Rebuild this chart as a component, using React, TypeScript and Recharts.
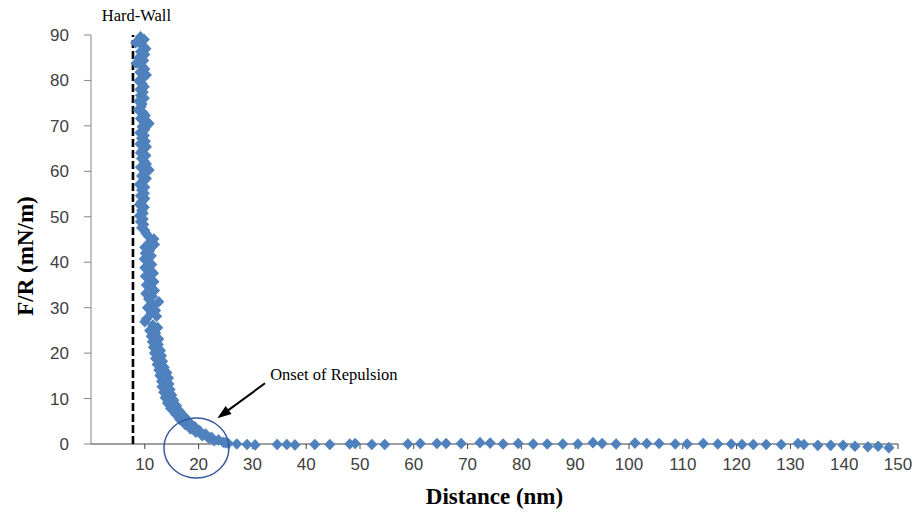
import React from 'react';
import { ScatterChart, Scatter, XAxis, YAxis, ReferenceLine, ReferenceDot } from 'recharts';

// Force-distance approach curve: [distance nm, F/R mN/m]
const approachCurve: [number, number][] = [
  [9.2, 89.6], [9.9, 89.0], [8.3, 88.3], [9.6, 87.6], [10.2, 87.0], [9.2, 86.3], [10.0, 85.7], [8.9, 85.0],
  [9.8, 84.4], [8.4, 83.8], [9.5, 83.1], [10.0, 82.5], [9.1, 81.8], [10.3, 81.2], [9.7, 80.6], [8.9, 79.9],
  [9.5, 79.3], [9.9, 78.6], [9.1, 78.0], [9.7, 77.4], [9.2, 76.7], [9.9, 76.1], [8.9, 75.4], [9.5, 74.8],
  [9.3, 74.2], [8.8, 73.5], [9.7, 72.9], [10.1, 72.3], [9.2, 71.6], [10.3, 71.0], [10.8, 70.5], [9.5, 69.8],
  [10.0, 69.2], [9.1, 68.5], [9.9, 67.9], [9.4, 67.3], [10.1, 66.6], [9.1, 66.0], [10.3, 65.4], [9.6, 64.7],
  [9.2, 64.1], [10.2, 63.5], [9.4, 62.8], [9.9, 62.2], [10.3, 61.6], [9.2, 60.9], [10.8, 60.3], [10.0, 59.7],
  [9.4, 59.0], [10.3, 58.4], [9.6, 57.8], [9.0, 57.1], [10.0, 56.5], [9.4, 55.9], [9.9, 55.2], [9.2, 54.6],
  [10.0, 54.0], [9.4, 53.3], [9.0, 52.7], [9.9, 52.1], [9.4, 51.4], [9.7, 50.8], [9.0, 50.2], [9.7, 49.5],
  [9.2, 48.9], [9.8, 48.3], [9.4, 47.6], [10.0, 47.0], [10.2, 46.4], [10.6, 45.8], [11.7, 45.1], [11.0, 44.5],
  [11.8, 43.9], [10.0, 43.3], [10.9, 42.6], [10.1, 42.0], [11.2, 41.4], [9.9, 40.7], [10.7, 40.1], [11.3, 39.5],
  [10.0, 38.8], [11.0, 38.2], [11.6, 37.6], [10.1, 36.9], [11.1, 36.3], [11.7, 35.7], [10.3, 35.0], [11.2, 34.4],
  [11.8, 33.8], [10.2, 33.1], [11.4, 32.5], [10.7, 31.9], [12.6, 31.3], [11.6, 30.6], [10.5, 30.0], [12.0, 29.4],
  [11.2, 28.8], [12.2, 28.1], [10.3, 27.5], [10.0, 26.9], [11.5, 26.2], [12.4, 25.6], [10.9, 25.0], [12.0, 24.4],
  [11.2, 23.7], [12.6, 23.1], [11.4, 22.5], [12.5, 21.9], [11.6, 21.3], [12.9, 20.6], [11.8, 20.0], [13.1, 19.4],
  [12.0, 18.8], [13.3, 18.2], [12.3, 17.5], [13.6, 16.9], [12.6, 16.3], [14.1, 15.7], [12.8, 15.1], [14.4, 14.5],
  [13.1, 13.8], [14.5, 13.2], [13.2, 12.6], [14.7, 12.0], [13.5, 11.4], [15.0, 10.8], [13.8, 10.2], [15.4, 9.6],
  [14.2, 9.0], [15.9, 8.4], [14.8, 7.8], [16.5, 7.2], [15.7, 6.6], [17.4, 6.0], [16.5, 5.4], [18.3, 4.8],
  [17.5, 4.3], [19.3, 3.8], [18.5, 3.3], [20.2, 2.9], [19.5, 2.6], [21.3, 2.2], [20.7, 1.8], [22.4, 1.5],
  [21.9, 1.2], [23.7, 0.9], [22.9, 0.7], [24.6, 0.4], [25.0, 0.3],
];

// Sparse points along the baseline at large separations
const baselineTail: [number, number][] = [
  [25.5, 0.1], [27.1, 0.0], [29.0, -0.1], [30.5, -0.2], [34.6, -0.1], [36.4, -0.1], [37.9, -0.2], [41.6, -0.1],
  [44.4, -0.1], [48.1, 0.0], [49.1, 0.1], [52.2, -0.1], [54.6, -0.1], [58.9, 0.0], [61.2, 0.1], [64.3, 0.1],
  [66.0, 0.1], [68.8, 0.1], [72.3, 0.3], [74.2, 0.2], [76.6, 0.0], [79.4, 0.1], [82.2, 0.0], [84.8, 0.0],
  [87.7, 0.0], [90.5, 0.0], [93.3, 0.3], [95.0, 0.1], [97.6, 0.0], [101.1, 0.2], [103.3, 0.1], [105.6, 0.1],
  [108.6, 0.0], [110.8, 0.0], [113.8, 0.1], [116.5, 0.0], [119.0, 0.0], [121.0, -0.1], [123.1, -0.1], [125.5, -0.1],
  [128.3, -0.1], [131.4, 0.1], [132.5, -0.1], [135.1, -0.3], [137.5, -0.3], [139.8, -0.3], [142.0, -0.5], [144.4, -0.6],
  [146.3, -0.5], [148.3, -0.8],
];

const xTicks = [10, 20, 30, 40, 50, 60, 70, 80, 90, 100, 110, 120, 130, 140, 150];
const yTicks = [0, 10, 20, 30, 40, 50, 60, 70, 80, 90];

const hardWallDistance = 7.8;
const hardWallLabel = 'Hard-Wall';
const hardWallLabelPos = { x: 2.0, y: 93.15 };
const onsetLabel = 'Onset of Repulsion';
const onsetLabelPos = { x: 33.3, y: 14.1 };
const onsetArrow = { from: { x: 32.34, y: 13.36 }, to: { x: 23.48, y: 5.66 } };
const onsetCircle = { x: 19.6, y: -0.88 };
const xTitle = 'Distance (nm)';
const yTitle = 'F/R (mN/m)';

const data = [...approachCurve, ...baselineTail].map(([x, y]) => ({ x, y }));

const SERIF = '"Liberation Serif", "Times New Roman", serif';
const SANS = '"Liberation Sans", Arial, sans-serif';
const BLUE = '#4F81BD';

const Diamond = (props: any) => {
  const { cx, cy } = props;
  if (cx == null || cy == null) return null;
  const hw = 5.6;
  const hh = 5.8;
  return (
    <polygon
      points={`${cx},${cy - hh} ${cx + hw},${cy} ${cx},${cy + hh} ${cx - hw},${cy}`}
      fill={BLUE}
    />
  );
};

const Arrow = (props: any) => {
  const { x1, y1, x2, y2 } = props;
  const dx = x2 - x1;
  const dy = y2 - y1;
  const len = Math.hypot(dx, dy) || 1;
  const ux = dx / len;
  const uy = dy / len;
  const hl = 14;
  const hw = 5;
  const bx = x2 - ux * hl;
  const by = y2 - uy * hl;
  return (
    <g>
      <line x1={x1} y1={y1} x2={bx + ux * 2} y2={by + uy * 2} stroke="#000" strokeWidth={2} />
      <polygon
        points={`${x2},${y2} ${bx - uy * hw},${by + ux * hw} ${bx + uy * hw},${by - ux * hw}`}
        fill="#000"
      />
    </g>
  );
};

export default function App() {
  return (
    <div style={{ position: 'absolute', left: 0, top: 0, width: 916, height: 512, background: '#fff' }}>
      <ScatterChart
        width={916}
        height={512}
        margin={{ top: 35, right: 18, bottom: 33, left: 0 }}
      >
        <XAxis
          type="number"
          dataKey="x"
          domain={[0, 150]}
          ticks={xTicks}
          axisLine={false}
          tickLine={false}
          tickSize={4}
          tickMargin={5}
          height={30}
          tick={{ fill: '#404040', fontSize: 17, fontFamily: SANS }}
          label={{
            content: (p: any) => {
              const vb = p.viewBox || {};
              return (
                <text
                  x={vb.x + vb.width / 2}
                  y={vb.y + 54.5}
                  textAnchor="middle"
                  fontFamily={SERIF}
                  fontWeight="bold"
                  fontSize={23}
                  fill="#000"
                >
                  {xTitle}
                </text>
              );
            },
          }}
        />
        <YAxis
          type="number"
          dataKey="y"
          domain={[-1.1, 90]}
          ticks={yTicks}
          width={91}
          axisLine={false}
          tickLine={{ stroke: '#868686' }}
          tickSize={7}
          tickMargin={15}
          tick={{ fill: '#404040', fontSize: 17, fontFamily: SANS }}
          label={{
            content: (p: any) => {
              const vb = p.viewBox || {};
              return (
                <text
                  transform={`translate(${vb.x + 33}, ${vb.y + 221}) rotate(-90)`}
                  textAnchor="middle"
                  fontFamily={SERIF}
                  fontWeight="bold"
                  fontSize={23}
                  fill="#000"
                >
                  {yTitle}
                </text>
              );
            },
          }}
        />
        {/* axis lines */}
        <ReferenceLine segment={[{ x: 0, y: 0 }, { x: 0, y: 90 }]} stroke="#868686" strokeWidth={1} ifOverflow="visible" />
        <ReferenceLine segment={[{ x: 0, y: 0 }, { x: 150, y: 0 }]} stroke="#404040" strokeWidth={1} ifOverflow="visible" />
        {xTicks.map((t) => (
          <ReferenceLine
            key={`xt-${t}`}
            segment={[{ x: t, y: 0 }, { x: t, y: -1.1 }]}
            stroke="#404040"
            strokeWidth={1}
            ifOverflow="visible"
          />
        ))}
        <Scatter data={data} shape={Diamond} isAnimationActive={false} />
        <ReferenceLine
          segment={[{ x: hardWallDistance, y: 0 }, { x: hardWallDistance, y: 90 }]}
          stroke="#000"
          strokeWidth={2.6}
          strokeDasharray="8 3"
          ifOverflow="visible"
        />
        <ReferenceDot
          x={hardWallLabelPos.x}
          y={hardWallLabelPos.y}
          ifOverflow="visible"
          shape={(p: any) => (
            <text x={p.cx} y={p.cy} fontFamily={SERIF} fontSize={16.5} fill="#000">
              {hardWallLabel}
            </text>
          )}
        />
        <ReferenceDot
          x={onsetCircle.x}
          y={onsetCircle.y}
          ifOverflow="visible"
          shape={(p: any) => (
            <ellipse cx={p.cx} cy={p.cy} rx={32.5} ry={30} fill="none" stroke="#35599D" strokeWidth={1.5} />
          )}
        />
        <ReferenceLine
          segment={[onsetArrow.from, onsetArrow.to]}
          ifOverflow="visible"
          shape={Arrow}
        />
        <ReferenceDot
          x={onsetLabelPos.x}
          y={onsetLabelPos.y}
          ifOverflow="visible"
          shape={(p: any) => (
            <text x={p.cx} y={p.cy} fontFamily={SERIF} fontSize={16.5} fill="#000">
              {onsetLabel}
            </text>
          )}
        />
      </ScatterChart>
    </div>
  );
}
